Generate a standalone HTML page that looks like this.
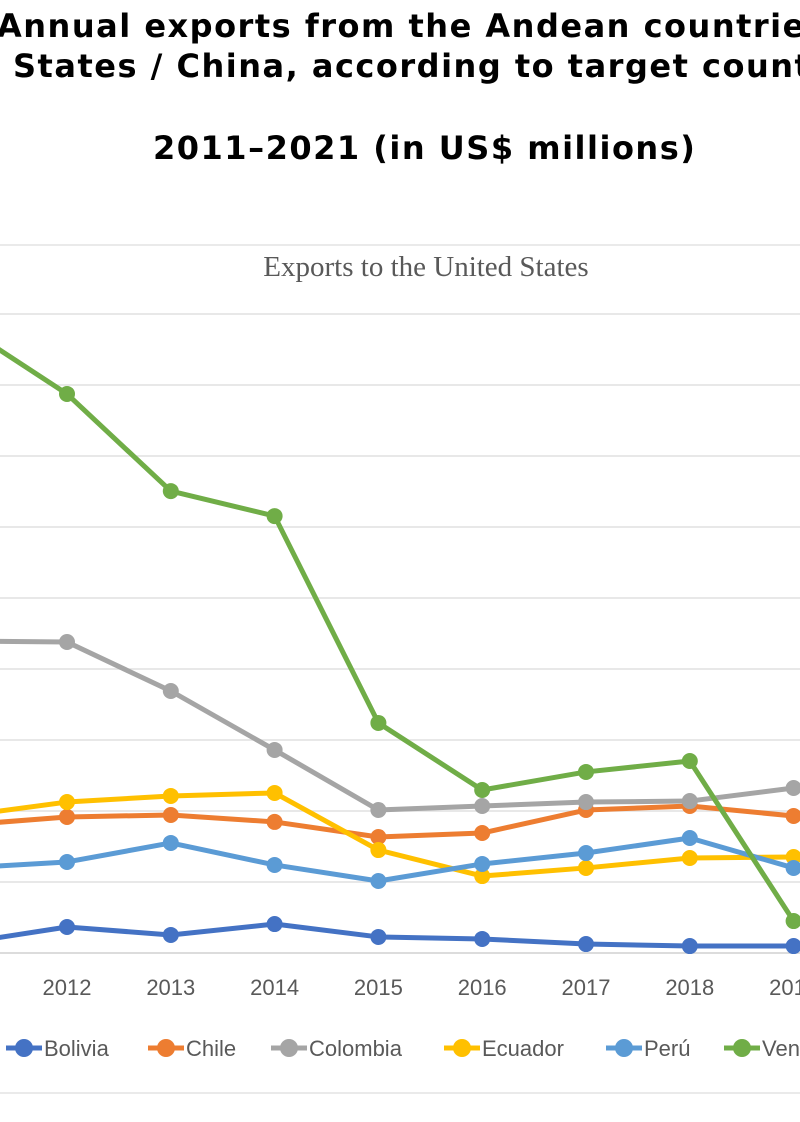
<!DOCTYPE html>
<html><head><meta charset="utf-8"><style>
body{margin:0;width:800px;height:1122px;overflow:hidden;background:#fff;position:relative;font-family:"DejaVu Sans",sans-serif}
.t{position:absolute;white-space:nowrap;font-weight:bold;font-size:32px;letter-spacing:1.5px;color:#000;margin:0}
</style></head><body>
<div class="t" style="left:-3px;top:7px">Annual exports from the Andean countries</div>
<div class="t" style="left:13px;top:47px">States / China, according to target countr</div>
<div class="t" style="left:153px;top:129px">2011–2021 (in US$ millions)</div>
<svg id="chart" width="800" height="1122" style="position:absolute;left:0;top:0"></svg>
<script>
const years=[2011,2012,2013,2014,2015,2016,2017,2018,2019];
const seriesNames=["Bolivia","Chile","Colombia","Ecuador","Perú","Venezuela"];
const colors=["#4472c4","#ed7d31","#a5a5a5","#ffc000","#5b9bd5","#70ad47"];
const bolivia=[700,1830,1270,2040,1130,990,630,490,490];
const chile=[9010,9580,9720,9230,8170,8450,10070,10350,9650];
const colombia=[21970,21900,18450,14300,10070,10350,10630,10700,11620];
const ecuador=[9650,10630,11060,11270,7250,5420,5990,6690,6760];
const peru=[5990,6410,7750,6200,5070,6270,7040,8100,5990];
const venezuela=[44150,39370,32530,30770,16200,11480,12750,13520,2250];
const yTicks=[0,5000,10000,15000,20000,25000,30000,35000,40000,45000];
const allSeries=[bolivia,chile,colombia,ecuador,peru,venezuela];
const NS="http://www.w3.org/2000/svg";
const svg=document.getElementById('chart');
const x=yr=>67+(yr-2012)*103.8;
const y=v=>953-v/5000*71;
function el(t,a){const e=document.createElementNS(NS,t);for(const k in a)e.setAttribute(k,a[k]);svg.appendChild(e);return e;}
let b=el('line',{x1:0,x2:800,y1:245,y2:245,stroke:'#e3e3e3','stroke-width':1.5});


b=el('line',{x1:0,x2:800,y1:1093,y2:1093,stroke:'#e3e3e3','stroke-width':1.5});


let ct=el('text',{x:426,y:276,'text-anchor':'middle','font-family':'Liberation Serif,serif','font-size':29,fill:'#595959'});
ct.textContent='Exports to the United States';


yTicks.forEach(v=>{
 const g=el('line',{x1:0,x2:800,y1:y(v),y2:y(v),stroke:v===0?'#d0d0d0':'#e0e0e0','stroke-width':1.5});
 
 
});
years.forEach(yr=>{
 const t=el('text',{x:x(yr),y:995,'text-anchor':'middle','font-family':'Liberation Sans,sans-serif','font-size':22,fill:'#595959'});
 t.textContent=yr;
 
 
});
allSeries.forEach((s,i)=>{
 const p=el('polyline',{points:s.map((v,j)=>x(years[j])+','+y(v)).join(' '),fill:'none',stroke:colors[i],'stroke-width':5,'stroke-linejoin':'round'});
 
 
 s.forEach((v,j)=>{
  const c=el('circle',{cx:x(years[j]),cy:y(v),r:8,fill:colors[i]});
  
  
 });
});
const legX=[24,166,289,462,624,742];
seriesNames.forEach((n,i)=>{
 const l=el('line',{x1:legX[i]-18,x2:legX[i]+18,y1:1048,y2:1048,stroke:colors[i],'stroke-width':5});
 
 
 const c=el('circle',{cx:legX[i],cy:1048,r:9,fill:colors[i]});
 
 
 const t=el('text',{x:legX[i]+20,y:1056,'font-family':'Liberation Sans,sans-serif','font-size':22,fill:'#595959'});
 t.textContent=n;
 
 
});
</script>
</body></html>
